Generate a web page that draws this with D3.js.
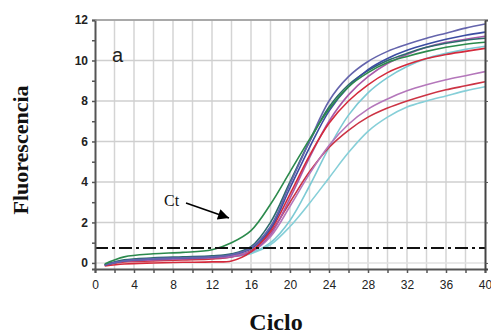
<!DOCTYPE html>
<html>
<head>
<meta charset="utf-8">
<script src="https://cdn.jsdelivr.net/npm/d3@7"></script>
<style>
  body { margin: 0; background: #fff; }
</style>
</head>
<body>
<script>
var cycles = [1, 3, 6, 9, 12, 14, 16, 18, 20, 22, 24, 26, 28, 30, 32, 34, 36, 38, 40];

var navy     = [-0.1, 0.1, 0.2, 0.25, 0.3, 0.4, 0.75, 1.8, 3.9, 6.0, 8.0, 9.2, 9.95, 10.45, 10.8, 11.1, 11.35, 11.6, 11.8];
var blue     = [-0.1, 0.1, 0.2, 0.25, 0.3, 0.4, 0.7, 1.7, 3.7, 5.7, 7.5, 8.7, 9.55, 10.1, 10.5, 10.8, 11.05, 11.25, 11.4];
var teal     = [-0.1, 0.15, 0.25, 0.3, 0.35, 0.45, 0.8, 2.0, 4.0, 6.0, 7.7, 8.8, 9.5, 10.0, 10.35, 10.65, 10.85, 11.0, 11.1];
var magenta  = [-0.1, 0.08, 0.15, 0.2, 0.25, 0.3, 0.55, 1.4, 3.2, 5.2, 7.0, 8.3, 9.2, 9.85, 10.3, 10.65, 10.9, 11.05, 11.2];
var green    = [-0.05, 0.3, 0.45, 0.52, 0.65, 1.0, 1.6, 2.9, 4.5, 6.1, 7.6, 8.7, 9.4, 9.9, 10.2, 10.45, 10.65, 10.8, 10.9];
var redUp    = [-0.15, -0.05, 0.0, 0.03, 0.05, 0.1, 0.55, 1.6, 3.4, 5.3, 6.9, 8.0, 8.8, 9.4, 9.8, 10.1, 10.3, 10.45, 10.6];
var cyanUp   = [-0.1, 0.1, 0.2, 0.25, 0.3, 0.35, 0.5, 1.0, 2.1, 3.8, 5.7, 7.3, 8.4, 9.15, 9.7, 10.1, 10.35, 10.55, 10.7];
var pinkLow  = [-0.1, 0.1, 0.2, 0.25, 0.3, 0.35, 0.55, 1.3, 2.8, 4.4, 5.8, 6.85, 7.6, 8.1, 8.5, 8.8, 9.05, 9.25, 9.45];
var redLow   = [-0.1, 0.05, 0.1, 0.15, 0.2, 0.3, 0.6, 1.5, 3.0, 4.5, 5.7, 6.55, 7.2, 7.65, 8.0, 8.3, 8.55, 8.75, 8.95];
var cyanLow  = [-0.1, 0.1, 0.15, 0.2, 0.25, 0.3, 0.45, 0.9, 1.8, 2.95, 4.2, 5.45, 6.5, 7.2, 7.7, 8.0, 8.25, 8.5, 8.7];

var series = [
  { values: cyanLow, color: "#86cfd8" },
  { values: cyanUp,  color: "#7ccad4" },
  { values: redLow,  color: "#cc3344" },
  { values: pinkLow, color: "#b477bb" },
  { values: magenta, color: "#a85aaa" },
  { values: redUp,   color: "#d42a3c" },
  { values: teal,    color: "#2c6a6c" },
  { values: blue,    color: "#3c4ca2" },
  { values: navy,    color: "#6464ac" },
  { values: green,   color: "#2b8a4c" }
];

var xTicks = [0, 4, 8, 12, 16, 20, 24, 28, 32, 36, 40];
var yTicks = [0, 2, 4, 6, 8, 10, 12];
var threshold = 0.74;

var svg = d3.select("body").append("svg")
  .attr("width", 491)
  .attr("height", 334);

var x = d3.scaleLinear().domain([0, 40]).range([95, 485]);
var y = d3.scaleLinear().domain([-0.3, 12]).range([269, 20]);

// grid
svg.append("g").selectAll("line")
  .data(d3.range(2, 40, 2))
  .enter().append("line")
  .attr("x1", function(d) { return x(d); })
  .attr("x2", function(d) { return x(d); })
  .attr("y1", y(12)).attr("y2", y(-0.3))
  .attr("stroke", "#d4d4d4").attr("stroke-width", 1.5);

svg.append("g").selectAll("line")
  .data(yTicks)
  .enter().append("line")
  .attr("x1", x(0)).attr("x2", x(40))
  .attr("y1", function(d) { return y(d); })
  .attr("y2", function(d) { return y(d); })
  .attr("stroke", function(d) { return d == 0 ? "#e0e0e0" : "#cfcfcf"; })
  .attr("stroke-width", 1.5);

// curves
var line = d3.line()
  .x(function(d, i) { return x(cycles[i]); })
  .y(function(d) { return y(d); })
  .curve(d3.curveCatmullRom.alpha(0.5));

svg.append("g").selectAll("path")
  .data(series)
  .enter().append("path")
  .attr("d", function(d) { return line(d.values); })
  .attr("fill", "none")
  .attr("stroke", function(d) { return d.color; })
  .attr("stroke-width", 1.6);

// threshold
svg.append("line")
  .attr("x1", x(0)).attr("x2", x(40))
  .attr("y1", y(threshold)).attr("y2", y(threshold))
  .attr("stroke", "#111").attr("stroke-width", 2)
  .attr("stroke-dasharray", "13,4,3,4");

// axes
var xAxis = d3.axisBottom(x).tickValues(d3.range(0, 41, 2))
  .tickFormat(function(d) { return xTicks.indexOf(d) >= 0 ? d : ""; })
  .tickSize(4).tickPadding(7);
var gx = svg.append("g").attr("transform", "translate(0,269)").call(xAxis);

var yAxis = d3.axisLeft(y).tickValues(d3.range(0, 13, 1))
  .tickFormat(function(d) { return yTicks.indexOf(d) >= 0 ? d : ""; })
  .tickSize(3).tickPadding(4);
var gy = svg.append("g").attr("transform", "translate(95,0)").call(yAxis);

[gx, gy].forEach(function(g) {
  g.select(".domain").attr("stroke", "#555").attr("stroke-width", 2);
  g.selectAll(".tick line").attr("stroke", "#555").attr("stroke-width", 1.5);
  g.selectAll(".tick text")
    .attr("fill", "#222")
    .style("font-family", "Arial, 'Liberation Sans', sans-serif")
    .style("font-size", "12px");
});
gy.selectAll(".tick text").style("font-weight", "bold");

// right border with ticks
var yRight = d3.axisRight(y).tickValues(yTicks).tickFormat("").tickSize(3);
var gr = svg.append("g").attr("transform", "translate(485,0)").call(yRight);
gr.select(".domain").attr("stroke", "#444").attr("stroke-width", 2);
gr.selectAll(".tick line").attr("stroke", "#555");

// top border
svg.append("line")
  .attr("x1", x(0)).attr("x2", x(40))
  .attr("y1", y(12)).attr("y2", y(12))
  .attr("stroke", "#999").attr("stroke-width", 1.5);

// panel letter
svg.append("text")
  .attr("x", 112).attr("y", 62)
  .style("font-family", "Arial, 'Liberation Sans', sans-serif")
  .style("font-size", "20px")
  .attr("fill", "#222")
  .text("a");

// Ct annotation
svg.append("text")
  .attr("x", 164).attr("y", 206)
  .style("font-family", "'Liberation Serif', 'Times New Roman', serif")
  .style("font-size", "16px")
  .attr("fill", "#111")
  .text("Ct");

svg.append("defs").append("marker")
  .attr("id", "arrow")
  .attr("viewBox", "0 0 10 10")
  .attr("refX", 10).attr("refY", 5)
  .attr("markerWidth", 14).attr("markerHeight", 11)
  .attr("markerUnits", "userSpaceOnUse")
  .attr("orient", "auto")
  .append("path")
  .attr("d", "M0,0 L10,5 L0,10 z")
  .attr("fill", "#000");

svg.append("line")
  .attr("x1", 186).attr("y1", 203)
  .attr("x2", 229).attr("y2", 218)
  .attr("stroke", "#000").attr("stroke-width", 1.6)
  .attr("marker-end", "url(#arrow)");

// axis titles
svg.append("text")
  .attr("transform", "translate(28,150) rotate(-90)")
  .attr("text-anchor", "middle")
  .style("font-family", "'Liberation Serif', 'Times New Roman', serif")
  .style("font-weight", "bold")
  .style("font-size", "22px")
  .attr("fill", "#111")
  .text("Fluorescencia");

svg.append("text")
  .attr("x", 276).attr("y", 330)
  .attr("text-anchor", "middle")
  .style("font-family", "'Liberation Serif', 'Times New Roman', serif")
  .style("font-weight", "bold")
  .style("font-size", "24px")
  .attr("fill", "#111")
  .text("Ciclo");
</script>
</body>
</html>
